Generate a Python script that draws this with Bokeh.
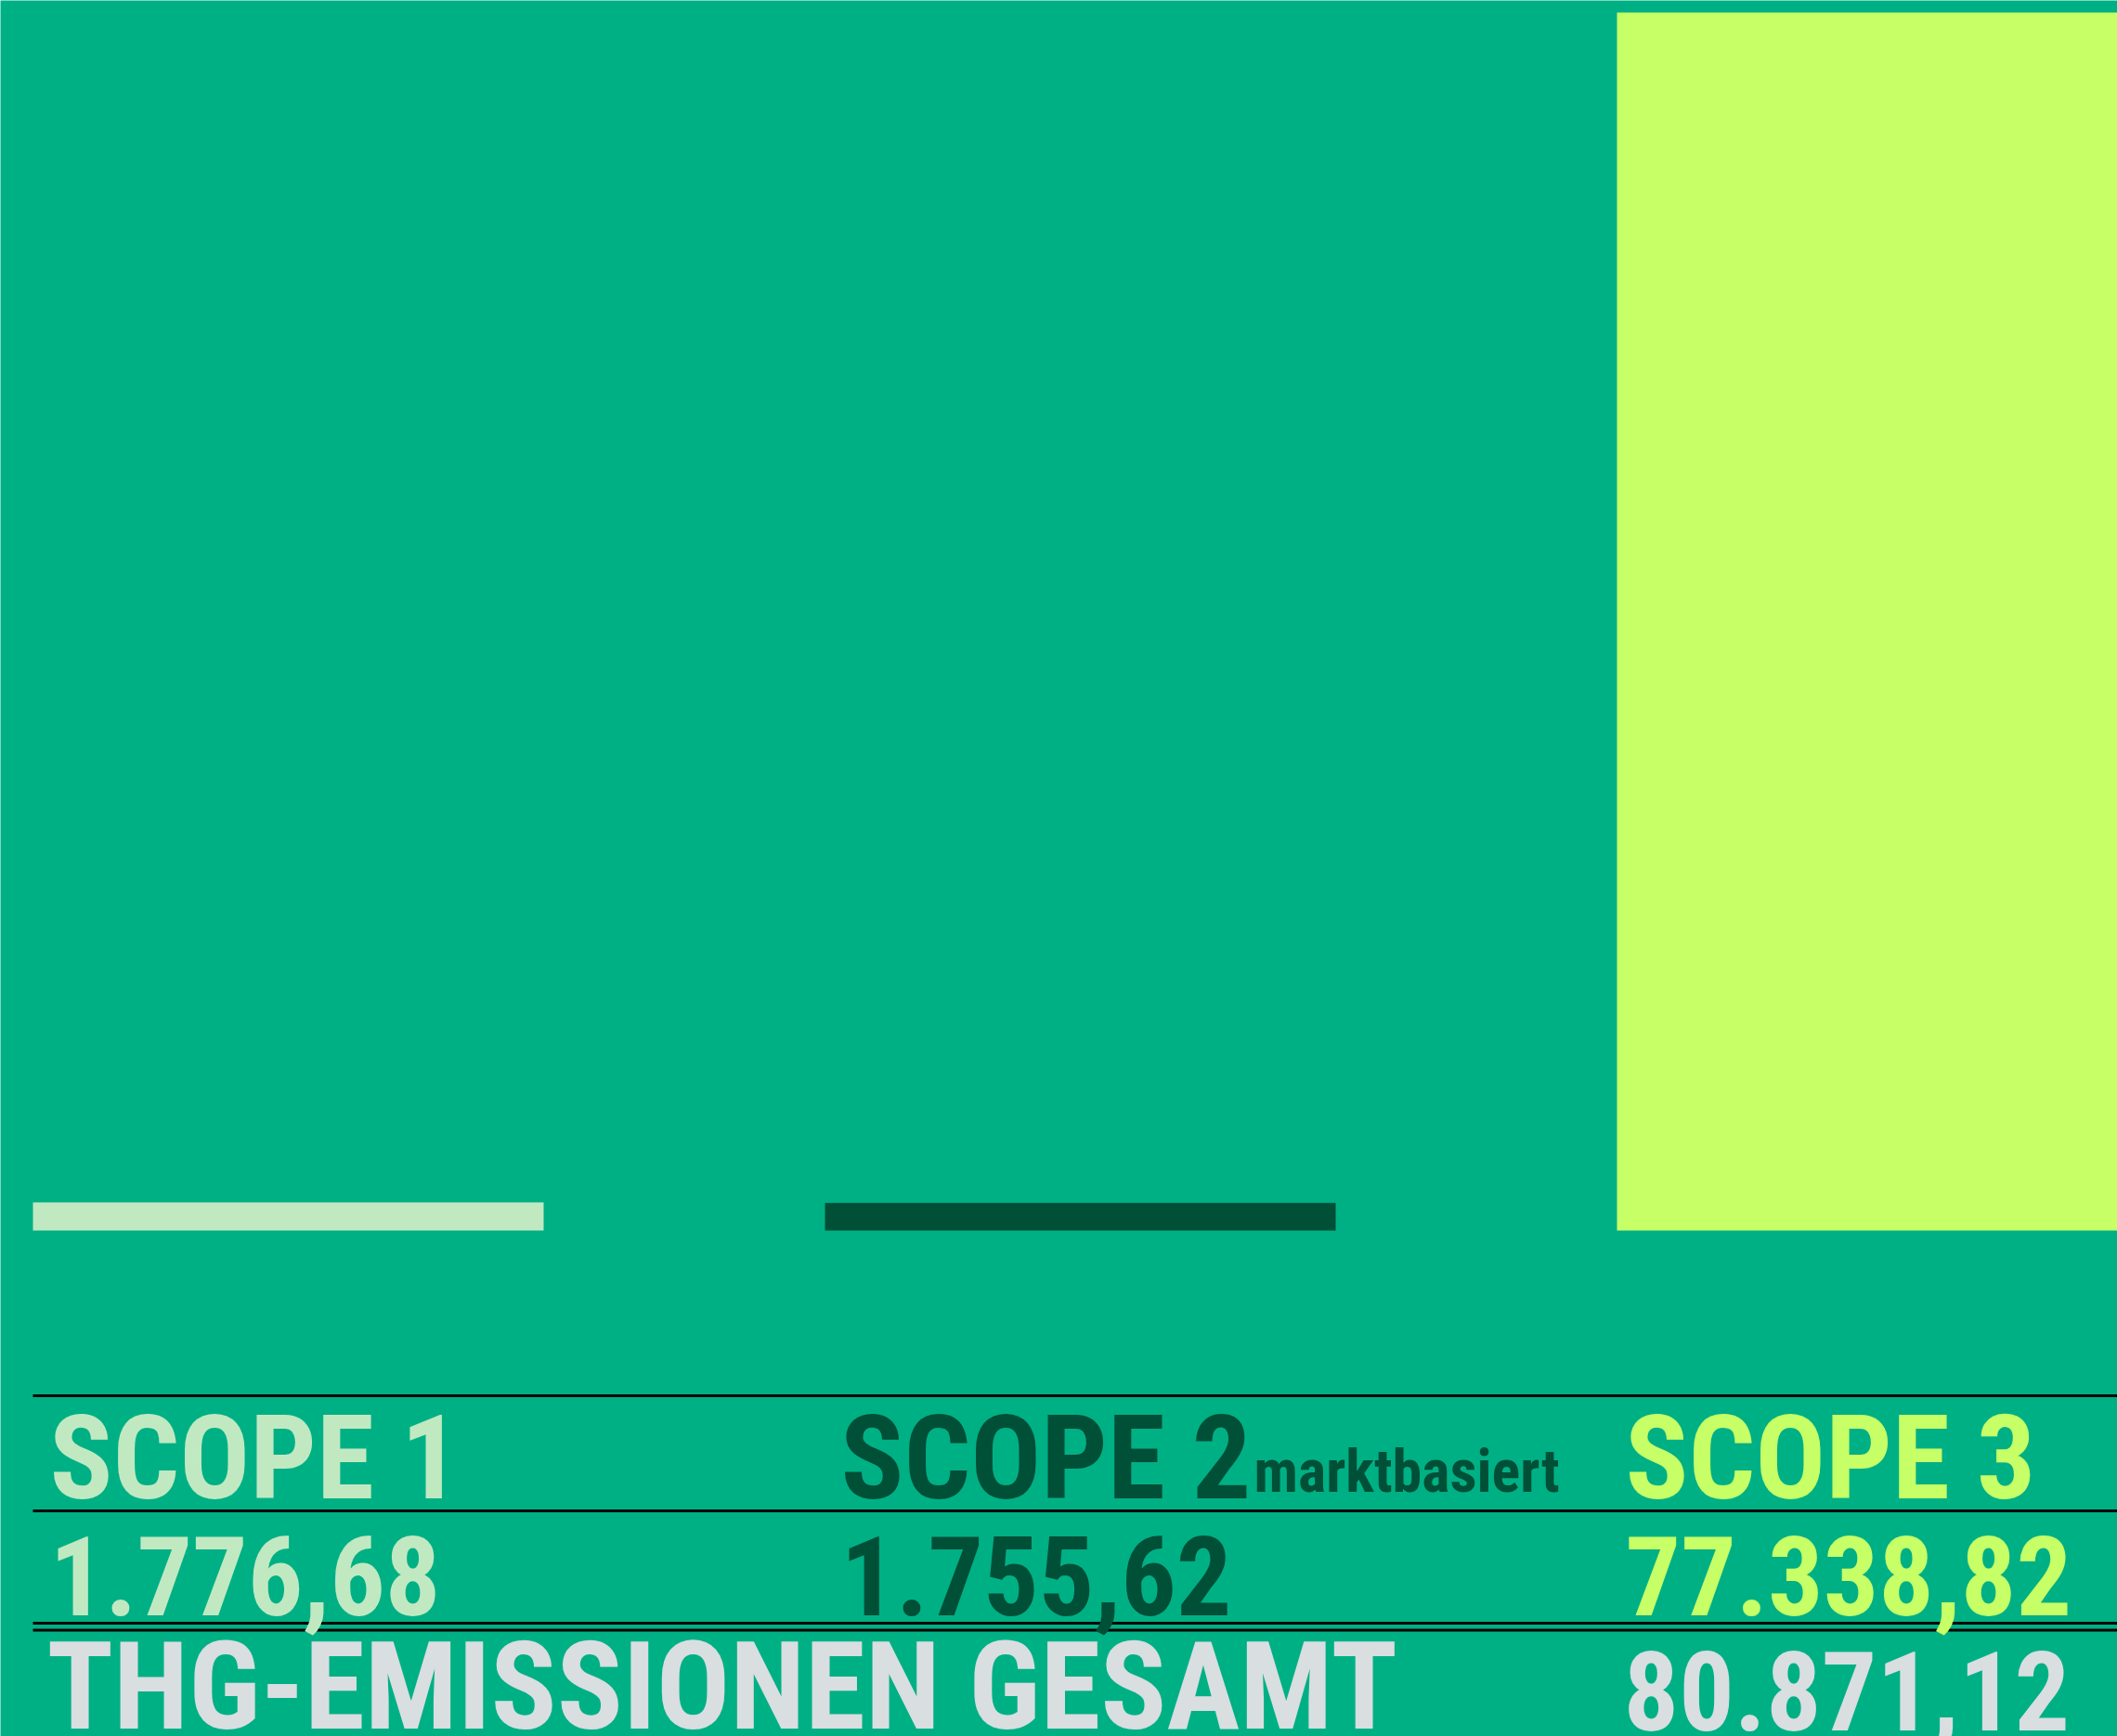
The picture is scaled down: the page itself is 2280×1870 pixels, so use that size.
from bokeh.plotting import figure
from bokeh.models import Range1d, ColumnDataSource
from bokeh.core.properties import value
from bokeh.embed import file_html
from bokeh.resources import INLINE

# ---- data ----
categories = ["SCOPE 1", "SCOPE 2", "SCOPE 3"]
subtitles = ["", "marktbasiert", ""]
values = [1776.68, 1755.62, 77338.82]
total_label = "THG-EMISSIONEN GESAMT"
total_value = 80871.12
colors = ["#c1e9c1", "#004f37", "#c6ff66"]
total_color = "#d9dee0"
bg = "#00b085"

def de(v):
    return f"{v:,.2f}".replace(",", "X").replace(".", ",").replace("X", ".")

value_labels = [de(v) for v in values]

# ---- layout ----
W, H = 2280, 1870
baseline_px, top_px = 1325, 13
px_per_unit = (baseline_px - top_px) / max(values)
y_end = baseline_px / px_per_unit
y_start = -(H - baseline_px) / px_per_unit

step_px, first_center_px, bar_px = 853, 310, 550
x_start = -first_center_px / step_px
x_end = x_start + W / step_px

FONT = "Roboto Condensed"
HEAD = 126
NUM = 118
TOTAL = 132
SMALL = 64
SHIFT = 0.33  # em correction for text baseline placement

def by(target, size):
    return target - SHIFT * size

p = figure(width=W, height=H, output_backend="svg", toolbar_location=None,
           x_range=Range1d(x_start, x_end), y_range=Range1d(y_start, y_end),
           x_axis_location=None, y_axis_location=None, min_border=0,
           background_fill_color=bg, border_fill_color=bg, outline_line_color=None)
p.grid.visible = False
p.extra_x_ranges = {"px": Range1d(0, W)}
p.extra_y_ranges = {"px": Range1d(H, 0)}

src = ColumnDataSource(dict(x=list(range(len(categories))), top=values, color=colors))
p.vbar(x="x", top="top", bottom=0, width=bar_px / step_px, fill_color="color",
       line_color=None, source=src)

# table rules
rule_y = [1503, 1627, 1748, 1755.5]
p.segment(x0=[35] * len(rule_y), x1=[W] * len(rule_y), y0=rule_y, y1=rule_y,
          line_color="#000000", line_width=3, x_range_name="px", y_range_name="px")

col_x = [53, 905, 1750]
common = dict(text_font=value(FONT), text_font_style="bold", text_baseline="alphabetic",
              x_range_name="px", y_range_name="px")
p.text(x=col_x, y=[by(1612, HEAD)] * 3, text=categories, text_color=colors,
       text_font_size=f"{HEAD}px", **common)
p.text(x=[1350], y=[by(1606, SMALL)], text=[subtitles[1]], text_color=[colors[1]],
       text_font_size=f"{SMALL}px", **common)
p.text(x=col_x, y=[by(1736, NUM)] * 3, text=value_labels, text_color=colors,
       text_font_size=f"{NUM}px", **common)
p.text(x=[50], y=[by(1860, TOTAL)], text=[total_label],
       text_color=total_color, text_font_size=f"{TOTAL}px", **common)
p.text(x=[1748], y=[by(1860, NUM)], text=[de(total_value)],
       text_color=total_color, text_font_size=f"{NUM}px", **common)

open("out.html", "w").write(file_html(p, INLINE))
